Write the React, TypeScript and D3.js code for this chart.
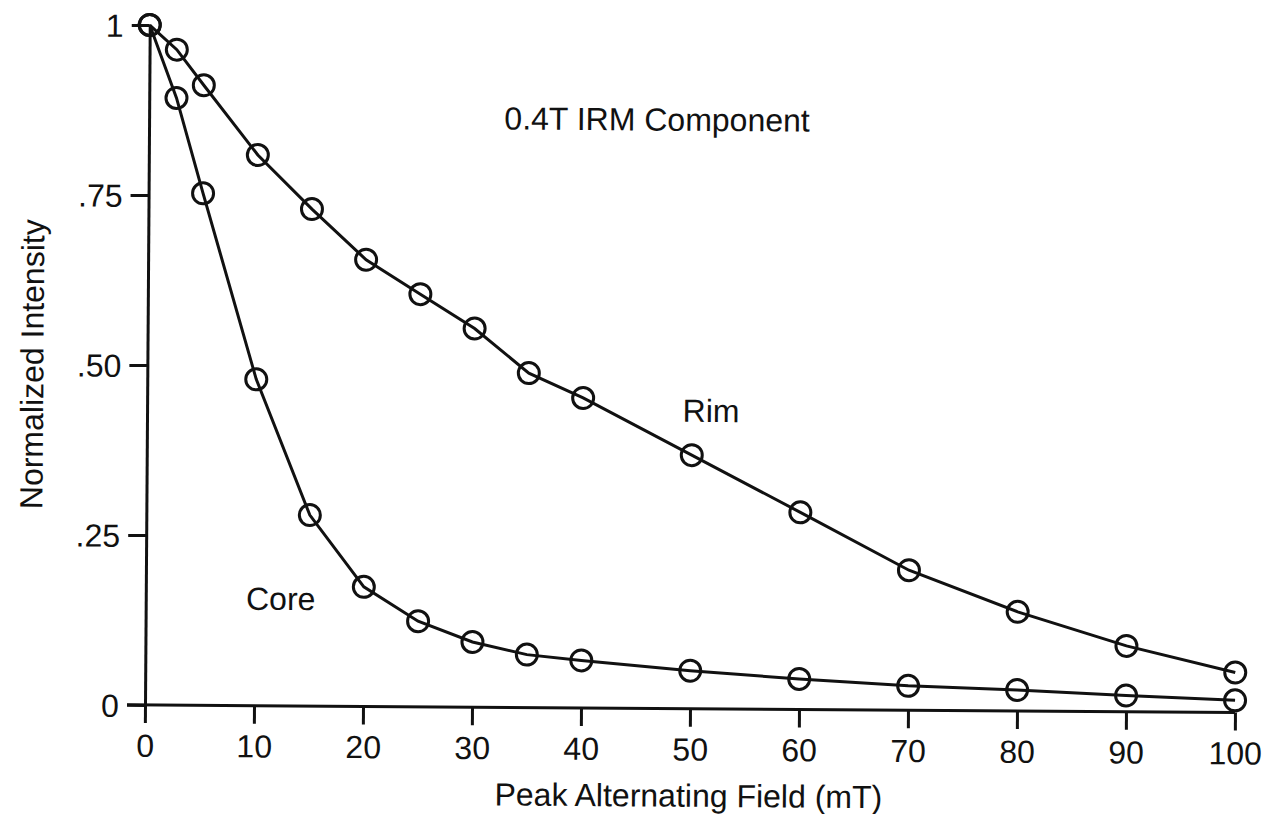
import React, { useRef, useEffect } from 'react';
import * as d3 from 'd3';

const fieldRim = [0, 2.5, 5, 10, 15, 20, 25, 30, 35, 40, 50, 60, 70, 80, 90, 100];
const rimValues = [1, 0.964, 0.912, 0.81, 0.731, 0.657, 0.607, 0.557, 0.492, 0.456, 0.373, 0.29, 0.206, 0.146, 0.097, 0.059];

const fieldCore = [0, 2.5, 5, 10, 15, 20, 25, 30, 35, 40, 50, 60, 70, 80, 90, 100];
const coreValues = [1, 0.893, 0.753, 0.48, 0.281, 0.176, 0.126, 0.096, 0.078, 0.07, 0.056, 0.045, 0.036, 0.031, 0.024, 0.018];

const xTicks = [0, 10, 20, 30, 40, 50, 60, 70, 80, 90, 100];
const yTicks = [0, 0.25, 0.5, 0.75, 1];
const yTickLabels = ['0', '.25', '.50', '.75', '1'];

const FONT = '"Liberation Sans", Arial, Helvetica, sans-serif';
const FS = 32;

const App = () => {
  const ref = useRef<SVGSVGElement>(null);

  useEffect(() => {
    document.body.style.margin = '0';
    const width = 1269;
    const height = 814;

    const svg = d3.select(ref.current);
    svg.selectAll('*').remove();
    svg.attr('width', width).attr('height', height);

    svg.append('rect').attr('width', width).attr('height', height).attr('fill', '#fff');

    const x = d3.scaleLinear().domain([0, 100]).range([145, 1235]);
    const y = d3.scaleLinear().domain([0, 1]).range([705, 25]);

    // scanned page is tilted a little clockwise
    const g = svg.append('g').attr('transform', `rotate(0.4, ${x(0)}, ${y(0)})`);

    const xAxis = d3.axisBottom(x).tickValues(xTicks).tickSize(18).tickPadding(11).tickSizeOuter(0)
      .tickFormat(d => String(d));
    const gx = g.append('g').attr('transform', `translate(0,${y(0)})`).call(xAxis);
    gx.select('.domain').attr('d', `M${x(0) - 18},0H${x(100)}`);

    const yAxis = d3.axisLeft(y).tickValues(yTicks).tickSize(18).tickPadding(8).tickSizeOuter(0)
      .tickFormat((d, i) => yTickLabels[i]);
    const gy = g.append('g').attr('transform', `translate(${x(0)},0)`).call(yAxis);

    g.selectAll('.domain, .tick line').attr('stroke', '#111').attr('stroke-width', 3);
    g.selectAll('.tick text').attr('font-family', FONT).attr('font-size', FS).attr('fill', '#111');
    gy.selectAll('.tick text').attr('dy', '0.36em');

    const line = d3.line<[number, number]>().x(d => x(d[0])).y(d => y(d[1]));

    const series = [
      d3.zip(fieldRim, rimValues) as [number, number][],
      d3.zip(fieldCore, coreValues) as [number, number][],
    ];

    series.forEach(pts => {
      g.append('path')
        .attr('d', line(pts))
        .attr('fill', 'none')
        .attr('stroke', '#111')
        .attr('stroke-width', 3);
      g.append('g')
        .selectAll('circle')
        .data(pts)
        .join('circle')
        .attr('cx', d => x(d[0]))
        .attr('cy', d => y(d[1]))
        .attr('r', 10.5)
        .attr('fill', 'none')
        .attr('stroke', '#111')
        .attr('stroke-width', 3);
    });

    const text = (tx: number, ty: number, s: string, anchor = 'middle') =>
      g.append('text')
        .attr('x', tx)
        .attr('y', ty)
        .attr('text-anchor', anchor)
        .attr('font-family', FONT)
        .attr('font-size', FS)
        .attr('fill', '#111')
        .text(s);

    text(653, 127, '0.4T IRM Component');
    text(709, 418, 'Rim');
    text(280, 609, 'Core');
    text(689, 803, 'Peak Alternating Field (mT)');
    text(0, 0, 'Normalized Intensity')
      .attr('transform', 'translate(41,365) rotate(-90)');
  }, []);

  return <svg ref={ref} style={{ display: 'block' }}></svg>;
};

export default App;
